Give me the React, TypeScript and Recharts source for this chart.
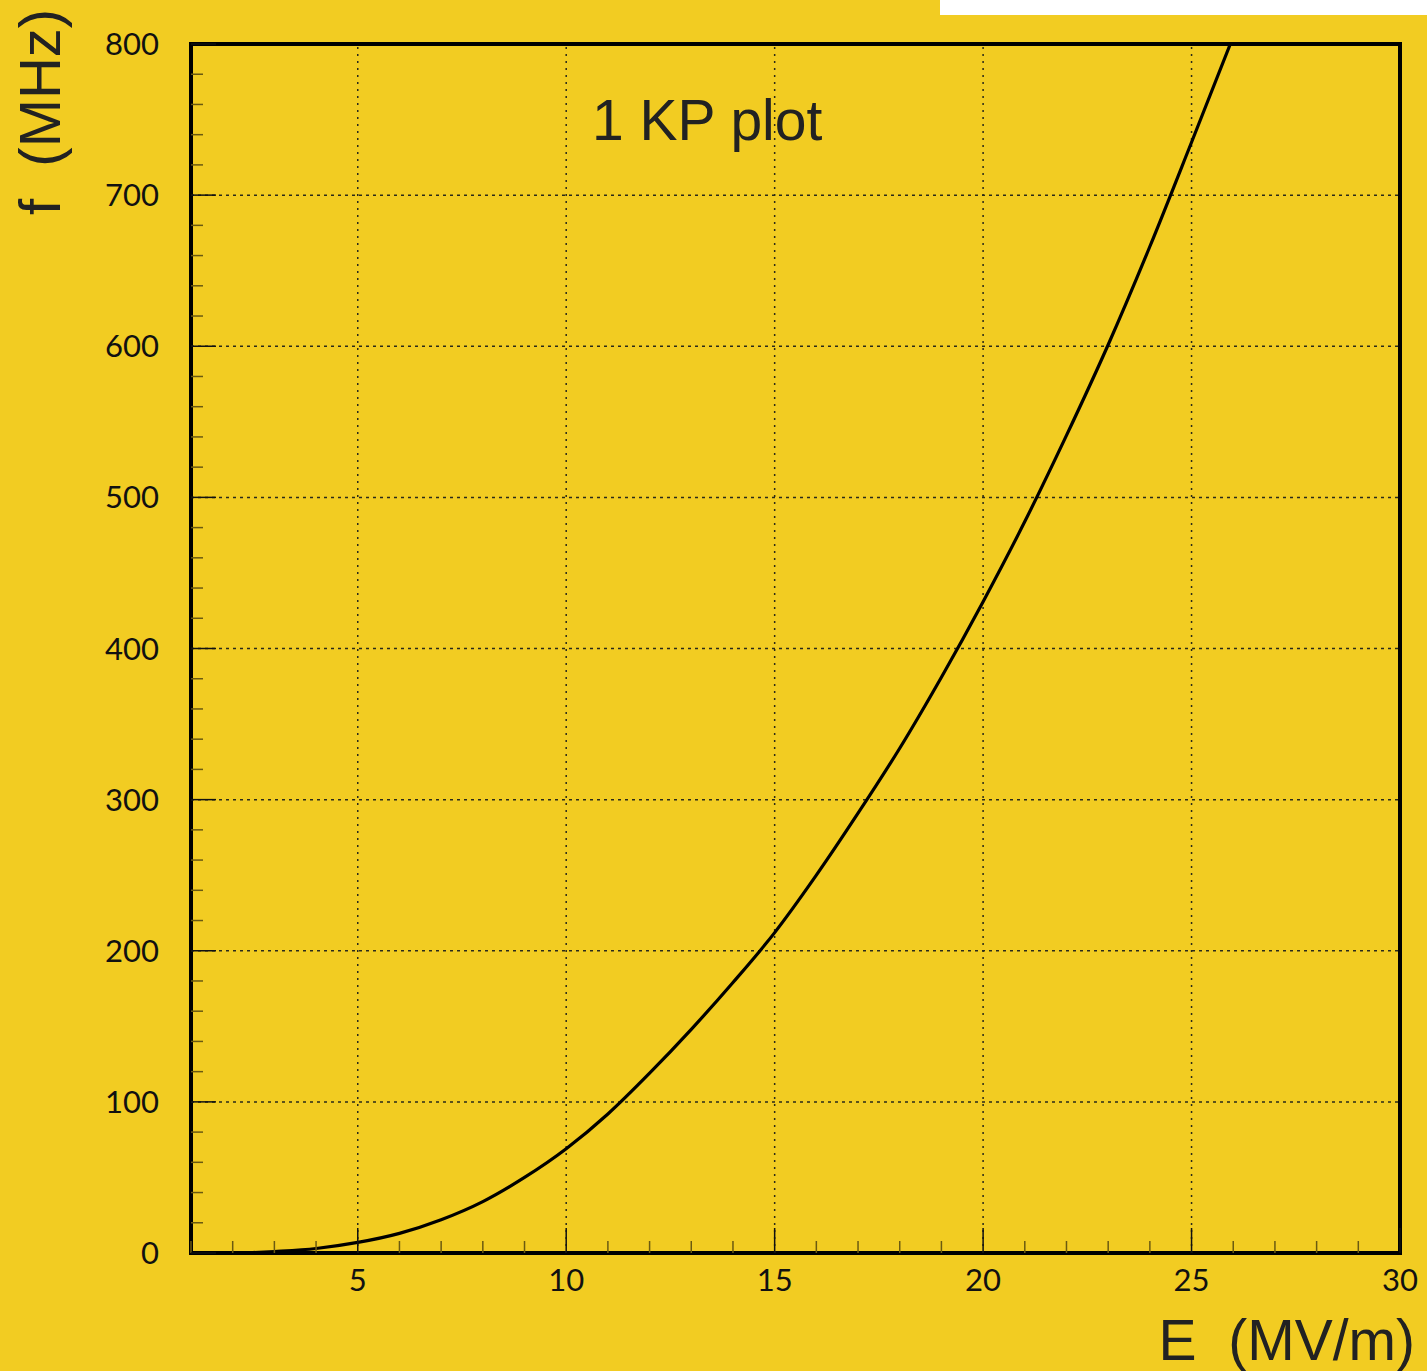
import React from "react";
import {
  LineChart,
  Line,
  XAxis,
  YAxis,
  ReferenceLine,
  ReferenceArea,
} from "recharts";

// E (MV/m) vs f (MHz)
const fieldE = [2.3, 3, 4, 5, 6, 7, 8, 9, 10, 11, 12, 13, 14, 15, 16, 17, 18, 19, 20, 21, 22, 23, 24, 25, 25.93];
const freqF = [0, 1, 3, 7, 13, 22, 34, 50, 69, 92, 119, 148, 179, 212, 250, 291, 334, 381, 431, 484, 541, 601, 666, 735, 800];

const xMajor = [5, 10, 15, 20, 25, 30];
const yMajor = [0, 100, 200, 300, 400, 500, 600, 700, 800];
const xGrid = [5, 10, 15, 20, 25];
const yGrid = [100, 200, 300, 400, 500, 600, 700];

// minor ticks: every 1 on x, every 20 on y
const xTicks = Array.from({ length: 30 }, (_, i) => i + 1);
const yTicks = Array.from({ length: 41 }, (_, i) => i * 20);

const data = fieldE.map((e, i) => ({ e, f: freqF[i] }));

const BG = "#F2CC22";
const INK = "#111";

const XTick = (props: any) => {
  const { x, y, payload } = props;
  const major = xMajor.includes(payload.value);
  return (
    <g>
      <line
        x1={x}
        x2={x}
        y1={y}
        y2={y - (major ? 25 : 12)}
        stroke={major ? INK : "#6b5a10"}
        strokeWidth={1.5}
      />
      {major && (
        <text
          x={x}
          y={y + 38}
          textAnchor="middle"
          fontFamily="Lato"
          fontSize={31}
          fill={INK}
        >
          {payload.value}
        </text>
      )}
    </g>
  );
};

const YTick = (props: any) => {
  const { x, y, payload } = props;
  const major = yMajor.includes(payload.value);
  return (
    <g>
      <line
        x1={x}
        x2={x + (major ? 25 : 12)}
        y1={y}
        y2={y}
        stroke={major ? INK : "#6b5a10"}
        strokeWidth={1.5}
      />
      {major && (
        <text
          x={x - 32}
          y={y + 11}
          textAnchor="end"
          fontFamily="Lato"
          fontSize={31}
          fill={INK}
        >
          {payload.value}
        </text>
      )}
    </g>
  );
};

export default function App() {
  return (
    <div
      style={{
        position: "absolute",
        left: 0,
        top: 0,
        width: 1427,
        height: 1371,
        background: BG,
        overflow: "hidden",
      }}
    >
      <div
        style={{
          position: "absolute",
          left: 940,
          top: 0,
          width: 487,
          height: 15,
          background: "#fff",
        }}
      />
      <LineChart
        width={1427}
        height={1371}
        data={data}
        margin={{ top: 44, right: 27, bottom: 0, left: 0 }}
        style={{ position: "absolute", left: 0, top: 0 }}
      >
        <XAxis
          dataKey="e"
          type="number"
          domain={[1, 30]}
          ticks={xTicks}
          interval={0}
          height={118}
          tickSize={0}
          tickMargin={0}
          tickLine={false}
          axisLine={false}
          tick={<XTick />}
          allowDataOverflow
        />
        <YAxis
          type="number"
          domain={[0, 800]}
          ticks={yTicks}
          interval={0}
          width={191}
          tickSize={0}
          tickMargin={0}
          tickLine={false}
          axisLine={false}
          tick={<YTick />}
          allowDataOverflow
        />
        {xGrid.map((v) => (
          <ReferenceLine
            key={"x" + v}
            x={v}
            stroke="#2a2a1a"
            strokeWidth={1.5}
            strokeDasharray="2 5"
          />
        ))}
        {yGrid.map((v) => (
          <ReferenceLine
            key={"y" + v}
            y={v}
            stroke="#2a2a1a"
            strokeWidth={1.5}
            strokeDasharray="3 4"
          />
        ))}
        <Line
          type="monotone"
          dataKey="f"
          stroke="#000"
          strokeWidth={3.2}
          dot={false}
          isAnimationActive={false}
        />
        <ReferenceArea
          x1={1}
          x2={30}
          y1={0}
          y2={800}
          fill="none"
          fillOpacity={0}
          stroke="#000"
          strokeWidth={4}
          ifOverflow="visible"
        />
        <text
          x={592}
          y={140}
          fontFamily="Liberation Sans"
          fontSize={57}
          fill="#222"
        >
          1 KP plot
        </text>
        <text
          x={1415}
          y={1360}
          textAnchor="end"
          fontFamily="Liberation Sans"
          fontSize={57}
          fill="#222"
          style={{ whiteSpace: "pre" }}
        >
          {"E  (MV/m)"}
        </text>
        <text
          x={60}
          y={215}
          transform="rotate(-90 60 215)"
          fontFamily="Liberation Sans"
          fontSize={58}
          fill="#222"
          style={{ whiteSpace: "pre" }}
        >
          {"f  (MHz)"}
        </text>
      </LineChart>
    </div>
  );
}
